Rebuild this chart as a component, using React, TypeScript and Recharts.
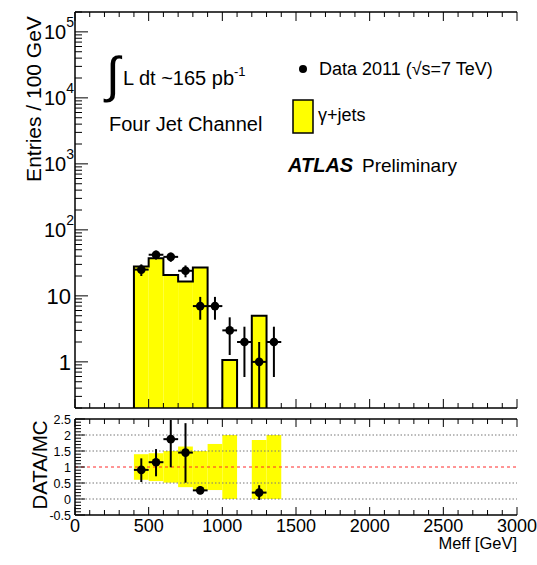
import React from 'react';
import {
  ComposedChart,
  XAxis,
  YAxis,
  Line,
  Scatter,
  ErrorBar,
  ReferenceArea,
  ReferenceLine,
} from 'recharts';

// ---------------- data ----------------
const binWidth = 100;

// gamma+jets MC histogram: bin lower edges [GeV] and entries / 100 GeV
const mcBinLow = [400, 500, 600, 700, 800, 1000, 1200];
const mcValues = [27.8, 37.2, 20.8, 16.5, 26.8, 1.07, 5.0];

// Data 2011 points
const dataX = [450, 550, 650, 750, 850, 950, 1050, 1150, 1250, 1350];
const dataY = [25, 42, 39, 24, 7, 7, 3, 2, 1, 2];
const dataErrLow = [5, 6.5, 6.2, 4.9, 2.65, 2.65, 1.73, 1.41, 0.8, 1.41];
const dataErrHigh = [5, 6.5, 6.2, 4.9, 2.65, 2.65, 1.73, 1.41, 1, 1.41];

// ratio panel: MC uncertainty band per bin
const bandBinLow = [400, 500, 600, 700, 800, 900, 1000, 1200, 1300];
const bandLow = [0.6, 0.56, 0.51, 0.37, 0.28, 0.28, 0, 0, 0];
const bandHigh = [1.4, 1.43, 1.5, 1.64, 1.5, 1.72, 2.0, 1.84, 2.0];

// ratio panel: DATA/MC points
const ratioX = [450, 550, 650, 750, 850, 1250];
const ratioY = [0.91, 1.15, 1.87, 1.45, 0.27, 0.2];
const ratioErrLow = [0.38, 0.44, 0.88, 0.94, 0.12, 0.23];
const ratioErrHigh = [0.36, 0.41, 0.6, 0.92, 0.12, 0.23];

// axes / ticks
const xDomain = [0, 3000];
const xMajorTicks = [0, 500, 1000, 1500, 2000, 2500, 3000];
const xTickLabels = ['0', '500', '1000', '1500', '2000', '2500', '3000'];
const topYDomain = [0.2, 200000];
const topYMajorTicks = [1, 10, 100, 1000, 10000, 100000];
const topYTickLabels = ['1', '10', '10^2', '10^3', '10^4', '10^5'];
const ratioYDomain = [-0.5, 2.5];
const ratioYMajorTicks = [-0.5, 0, 0.5, 1, 1.5, 2, 2.5];
const ratioYTickLabels = ['-0.5', '0', '0.5', '1', '1.5', '2', '2.5'];
const ratioGridLines = [0, 0.5, 1.5, 2];
const ratioUnityLine = 1;

// ---------------- derived tables ----------------
const FONT = '"Liberation Sans", Arial, Helvetica, sans-serif';

const xAllTicks: number[] = [];
for (let k = 0; k <= 30; k++) xAllTicks.push(k * 100);

const topYAllTicks: number[] = [];
for (let e = -1; e <= 5; e++) {
  for (let m = 1; m <= 9; m++) {
    const v = Number((m * Math.pow(10, e)).toPrecision(6));
    if (v >= topYDomain[0] && v <= topYDomain[1]) topYAllTicks.push(v);
  }
}

const ratioYAllTicks: number[] = [];
for (let k = -5; k <= 25; k++) ratioYAllTicks.push(k / 10);

const isXMajor = (v: number) => xMajorTicks.includes(v);
const isTopYMajor = (v: number) => topYMajorTicks.includes(v);
const isRatioYMajor = (v: number) => ratioYMajorTicks.some((t) => Math.abs(t - v) < 1e-9);

const topPoints = dataX.map((x, i) => ({
  x,
  y: dataY[i],
  ey: [dataErrLow[i], dataErrHigh[i]],
  ex: binWidth / 2,
}));

const ratioPoints = ratioX.map((x, i) => ({
  x,
  y: ratioY[i],
  ey: [ratioErrLow[i], ratioErrHigh[i]],
  ex: binWidth / 2,
}));

// outline of the MC histogram, one polyline per contiguous run of bins
const outlineRuns: { x: number; y: number }[][] = [];
{
  const base = topYDomain[0];
  let run: { x: number; y: number }[] | null = null;
  let lastHi = -1;
  let lastV = 0;
  mcBinLow.forEach((lo, i) => {
    const v = mcValues[i];
    if (run && lastHi === lo) {
      run.push({ x: lo, y: v });
    } else {
      if (run) {
        run.push({ x: lastHi, y: lastV }, { x: lastHi, y: base });
        outlineRuns.push(run);
      }
      run = [
        { x: lo, y: base },
        { x: lo, y: v },
      ];
    }
    lastHi = lo + binWidth;
    lastV = v;
  });
  if (run) {
    (run as { x: number; y: number }[]).push({ x: lastHi, y: lastV }, { x: lastHi, y: base });
    outlineRuns.push(run);
  }
}

// ---------------- tick renderers ----------------
type Side = 'left' | 'right' | 'top' | 'bottom';
const makeTick =
  (
    side: Side,
    isMajor: (v: number) => boolean,
    majorLen: number,
    minorLen: number,
    label?: (v: number, x: number, y: number) => React.ReactNode
  ) =>
  (props: any) => {
    const { x, y, payload } = props;
    const v = payload.value;
    const major = isMajor(v);
    const len = major ? majorLen : minorLen;
    let x2 = x;
    let y2 = y;
    if (side === 'left') x2 = x + len;
    else if (side === 'right') x2 = x - len;
    else if (side === 'top') y2 = y + len;
    else y2 = y - len;
    return (
      <g>
        <line x1={x} y1={y} x2={x2} y2={y2} stroke="#000" strokeWidth={1} />
        {major && label ? label(v, x, y) : null}
      </g>
    );
  };

const topYLabel = (v: number, x: number, y: number) => {
  const lab = topYTickLabels[topYMajorTicks.indexOf(v)];
  if (lab.includes('^')) {
    const [b, e] = lab.split('^');
    return (
      <text x={x - 1} y={y + 7} textAnchor="end" fontFamily={FONT} fontSize={20} fill="#000">
        <tspan>{b}</tspan>
        <tspan dy={-12} fontSize={14}>
          {e}
        </tspan>
      </text>
    );
  }
  return (
    <text x={x - 4} y={y + 8} textAnchor="end" fontFamily={FONT} fontSize={22} fill="#000">
      {lab}
    </text>
  );
};

const ratioYLabel = (v: number, x: number, y: number) => {
  const idx = ratioYMajorTicks.findIndex((t) => Math.abs(t - v) < 1e-9);
  return (
    <text x={x - 4} y={y + 4.5} textAnchor="end" fontFamily={FONT} fontSize={12.5} fill="#000">
      {ratioYTickLabels[idx]}
    </text>
  );
};

const xLabel = (v: number, x: number, y: number) => (
  <text x={x} y={y + 17} textAnchor="middle" fontFamily={FONT} fontSize={18} fill="#000">
    {xTickLabels[xMajorTicks.indexOf(v)]}
  </text>
);

const DataMarker = (props: any) => <circle cx={props.cx} cy={props.cy} r={4.3} fill="#000" />;

const frame = { stroke: '#000', strokeWidth: 1.5 };

export default function App() {
  return (
    <div
      style={{
        position: 'absolute',
        left: 0,
        top: 0,
        width: 537,
        height: 565,
        background: '#fff',
        overflow: 'hidden',
      }}
    >
      {/* ---------- main panel ---------- */}
      <div style={{ position: 'absolute', left: 0, top: 0 }}>
        <ComposedChart width={537} height={420} margin={{ top: 12, right: 20, bottom: 12, left: 0 }}>
          <XAxis
            xAxisId="xb"
            dataKey="x"
            type="number"
            domain={xDomain}
            allowDataOverflow
            orientation="bottom"
            mirror
            ticks={xAllTicks}
            interval={0}
            tickLine={false}
            tickSize={0}
            tickMargin={0}
            axisLine={frame}
            tick={makeTick('bottom', isXMajor, 9, 5)}
          />
          <XAxis
            xAxisId="xt"
            dataKey="x"
            type="number"
            domain={xDomain}
            allowDataOverflow
            orientation="top"
            mirror
            ticks={xAllTicks}
            interval={0}
            tickLine={false}
            tickSize={0}
            tickMargin={0}
            axisLine={frame}
            tick={makeTick('top', isXMajor, 9, 5)}
          />
          <YAxis
            yAxisId="yl"
            dataKey="y"
            type="number"
            scale="log"
            domain={topYDomain}
            allowDataOverflow
            orientation="left"
            width={75}
            ticks={topYAllTicks}
            interval={0}
            tickLine={false}
            tickSize={0}
            tickMargin={0}
            axisLine={frame}
            tick={makeTick('left', isTopYMajor, 13, 7, topYLabel)}
          />
          <YAxis
            yAxisId="yr"
            dataKey="y"
            type="number"
            scale="log"
            domain={topYDomain}
            allowDataOverflow
            orientation="right"
            mirror
            width={0}
            ticks={topYAllTicks}
            interval={0}
            tickLine={false}
            tickSize={0}
            tickMargin={0}
            axisLine={frame}
            tick={makeTick('right', isTopYMajor, 13, 7)}
          />

          {mcBinLow.map((lo, i) => (
            <ReferenceArea
              key={'mc' + lo}
              xAxisId="xb"
              yAxisId="yl"
              x1={lo}
              x2={lo + binWidth}
              y1={topYDomain[0]}
              y2={mcValues[i]}
              fill="#ffff00"
              fillOpacity={1}
              stroke="none"
              ifOverflow="visible"
            />
          ))}

          {outlineRuns.map((run, i) => (
            <Line
              key={'run' + i}
              xAxisId="xb"
              yAxisId="yl"
              data={run}
              dataKey="y"
              type="stepAfter"
              stroke="#000"
              strokeWidth={2}
              dot={false}
              activeDot={false}
              isAnimationActive={false}
            />
          ))}

          <Scatter
            xAxisId="xb"
            yAxisId="yl"
            data={topPoints}
            dataKey="y"
            shape={DataMarker}
            isAnimationActive={false}
          >
            <ErrorBar dataKey="ey" direction="y" width={0} stroke="#000" strokeWidth={2} isAnimationActive={false} />
            <ErrorBar dataKey="ex" direction="x" width={0} stroke="#000" strokeWidth={2} isAnimationActive={false} />
          </Scatter>
        </ComposedChart>
      </div>

      {/* ---------- ratio panel ---------- */}
      <div style={{ position: 'absolute', left: 0, top: 408 }}>
        <ComposedChart width={537} height={157} margin={{ top: 11, right: 20, bottom: 0, left: 0 }}>
          <XAxis
            xAxisId="xb"
            dataKey="x"
            type="number"
            domain={xDomain}
            allowDataOverflow
            orientation="bottom"
            height={50}
            ticks={xAllTicks}
            interval={0}
            tickLine={false}
            tickSize={0}
            tickMargin={0}
            axisLine={frame}
            tick={makeTick('bottom', isXMajor, 8, 5, xLabel)}
          />
          <XAxis
            xAxisId="xt"
            dataKey="x"
            type="number"
            domain={xDomain}
            allowDataOverflow
            orientation="top"
            mirror
            ticks={xAllTicks}
            interval={0}
            tickLine={false}
            tickSize={0}
            tickMargin={0}
            axisLine={frame}
            tick={makeTick('top', isXMajor, 8, 5)}
          />
          <YAxis
            yAxisId="yl"
            dataKey="y"
            type="number"
            domain={ratioYDomain}
            allowDataOverflow
            orientation="left"
            width={75}
            ticks={ratioYAllTicks}
            interval={0}
            tickLine={false}
            tickSize={0}
            tickMargin={0}
            axisLine={frame}
            tick={makeTick('left', isRatioYMajor, 10, 6, ratioYLabel)}
          />
          <YAxis
            yAxisId="yr"
            dataKey="y"
            type="number"
            domain={ratioYDomain}
            allowDataOverflow
            orientation="right"
            mirror
            width={0}
            ticks={ratioYAllTicks}
            interval={0}
            tickLine={false}
            tickSize={0}
            tickMargin={0}
            axisLine={frame}
            tick={makeTick('right', isRatioYMajor, 10, 6)}
          />

          {ratioGridLines.map((v) => (
            <ReferenceLine
              key={'g' + v}
              xAxisId="xb"
              yAxisId="yl"
              y={v}
              stroke="#777"
              strokeWidth={1}
              strokeDasharray="1.5 2"
            />
          ))}

          {bandBinLow.map((lo, i) => (
            <ReferenceArea
              key={'band' + lo}
              xAxisId="xb"
              yAxisId="yl"
              x1={lo}
              x2={lo + binWidth}
              y1={bandLow[i]}
              y2={bandHigh[i]}
              fill="#ffff00"
              fillOpacity={1}
              stroke="none"
              ifOverflow="visible"
            />
          ))}

          <ReferenceLine
            xAxisId="xb"
            yAxisId="yl"
            y={ratioUnityLine}
            stroke="#ff2a2a"
            strokeWidth={1}
            strokeDasharray="3 3"
          />

          <Scatter
            xAxisId="xb"
            yAxisId="yl"
            data={ratioPoints}
            dataKey="y"
            shape={DataMarker}
            isAnimationActive={false}
          >
            <ErrorBar dataKey="ey" direction="y" width={0} stroke="#000" strokeWidth={2} isAnimationActive={false} />
            <ErrorBar dataKey="ex" direction="x" width={0} stroke="#000" strokeWidth={2} isAnimationActive={false} />
          </Scatter>
        </ComposedChart>
      </div>

      {/* ---------- titles, annotations and legend ---------- */}
      <svg
        width={537}
        height={565}
        style={{ position: 'absolute', left: 0, top: 0, pointerEvents: 'none' }}
        fontFamily={FONT}
      >
        <text transform="translate(41,99) rotate(-90)" textAnchor="middle" fontSize={21} fill="#000">
          Entries / 100 GeV
        </text>
        <text transform="translate(47,465) rotate(-90)" textAnchor="middle" fontSize={20.5} fill="#000">
          DATA/MC
        </text>
        <text x={517} y={549} textAnchor="end" fontSize={16.5} fill="#000">
          Meff [GeV]
        </text>

        <text x={106} y={92} fontSize={50} fill="#000">
          ∫
        </text>
        <text x={123} y={85} fontSize={20} fill="#000">
          <tspan>L dt ~165 pb</tspan>
          <tspan dy={-9} fontSize={13}>
            -1
          </tspan>
        </text>
        <text x={109} y={131} fontSize={20} fill="#000">
          Four Jet Channel
        </text>

        <circle cx={303} cy={69} r={4} fill="#000" />
        <text x={319} y={75} fontSize={18} fill="#000">
          Data 2011 (√s=7 TeV)
        </text>
        <rect x={293} y={100} width={20} height={33} fill="#ffff00" stroke="#000" strokeWidth={1.5} />
        <text x={318} y={121} fontSize={18} fill="#000">
          γ+jets
        </text>

        <text x={288} y={172} fontSize={20} fontWeight="bold" fontStyle="italic" fill="#000">
          ATLAS
        </text>
        <text x={362} y={172} fontSize={19} fill="#000">
          Preliminary
        </text>
      </svg>
    </div>
  );
}
